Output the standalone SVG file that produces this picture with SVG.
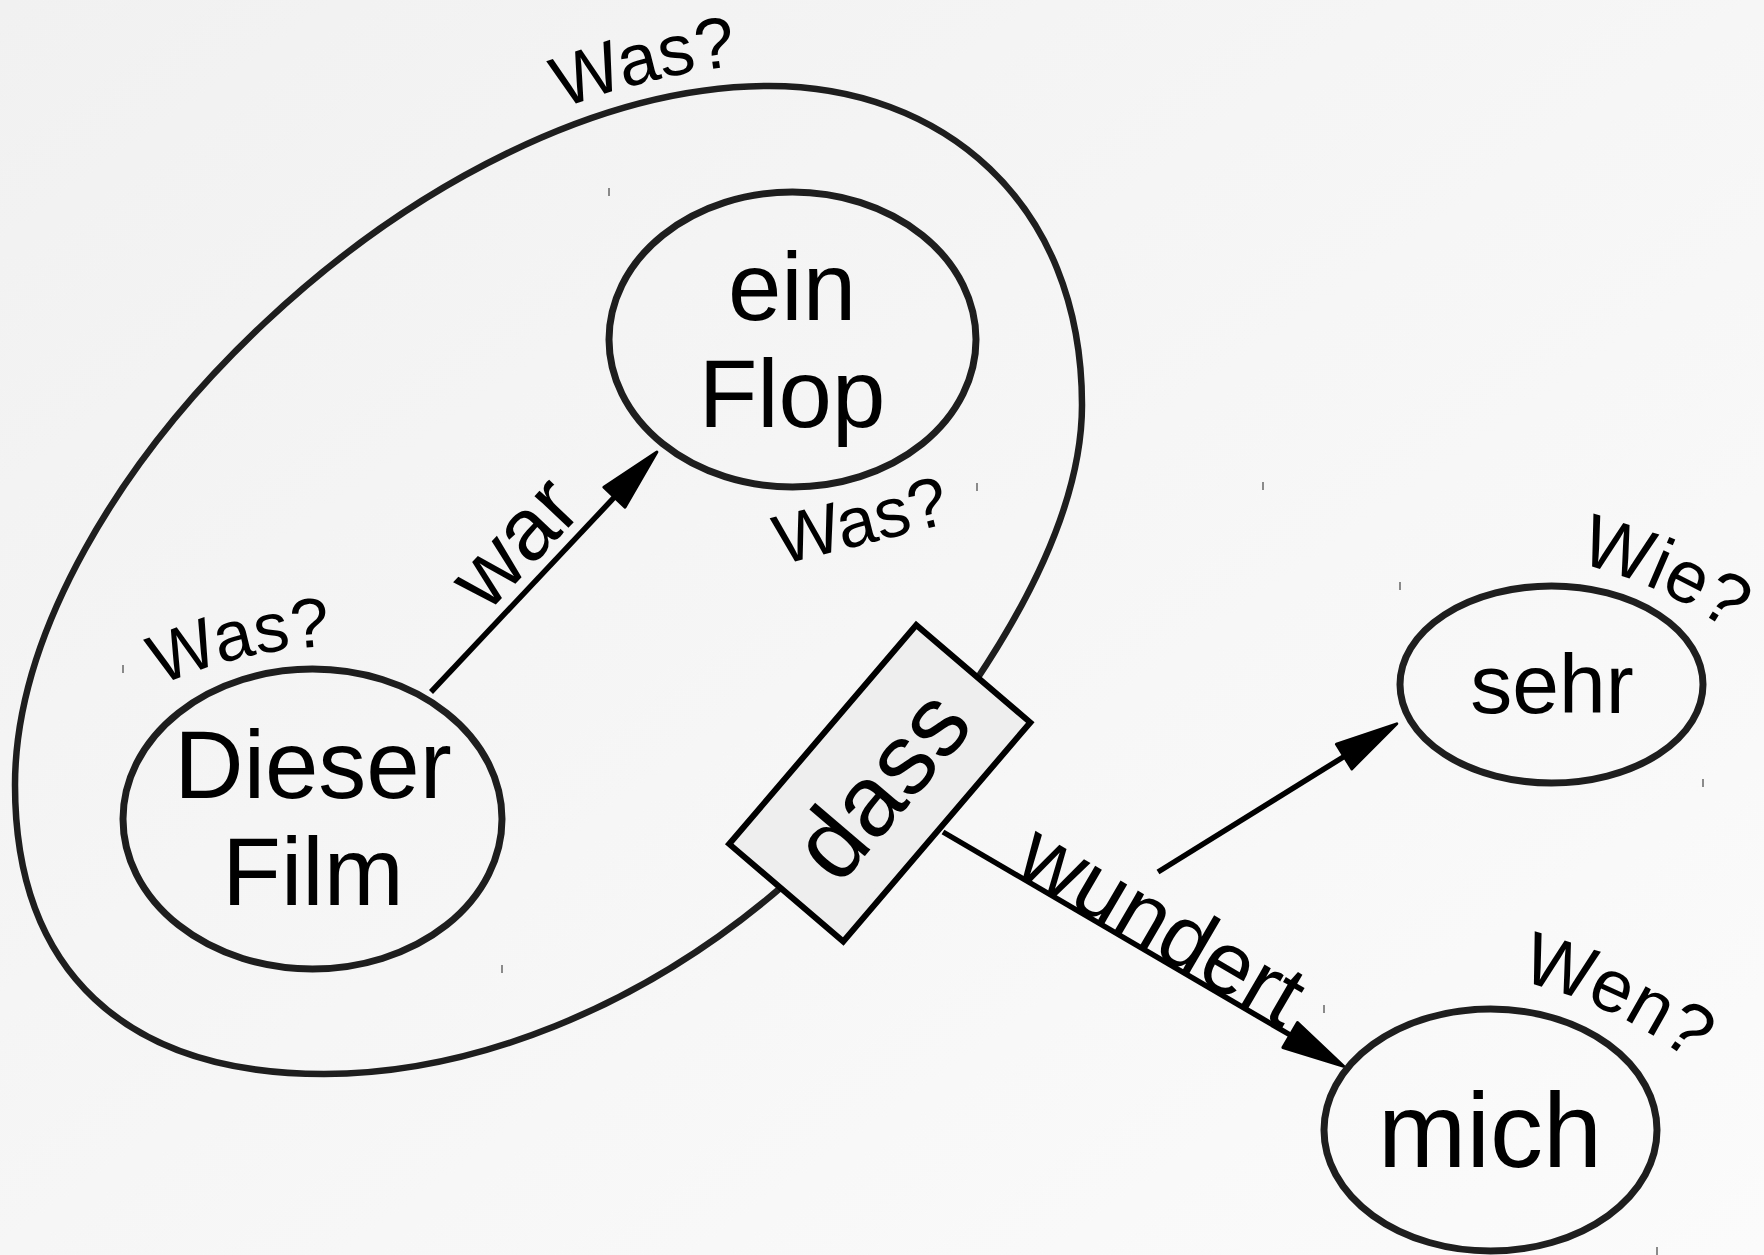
<svg xmlns="http://www.w3.org/2000/svg" width="1764" height="1255" viewBox="0 0 1764 1255">
<defs>
<linearGradient id="bg" x1="0" y1="0" x2="1" y2="1">
<stop offset="0" stop-color="#f1f1f1"/>
<stop offset="1" stop-color="#fbfbfb"/>
</linearGradient>
<marker id="arr" markerUnits="userSpaceOnUse" viewBox="-2 -20 70 40" markerWidth="70" markerHeight="40" refX="0" refY="0" orient="auto" overflow="visible">
<path d="M0,-14.5 L62,0 L0,14.5 Z" fill="#000" stroke="#000" stroke-width="3" stroke-linejoin="round"/>
</marker>
<path id="pWasTop" d="M562,109 A700,700 0 0,1 878,64"/>
<path id="pWasLeft" d="M160,686 A450,450 0 0,1 462.4,661.2"/>
<path id="pWie" d="M1577,563 A450,450 0 0,1 1791,682.6"/>
<path id="pWen" d="M1519,981 A450,450 0 0,1 1762.9,1130.3"/>
</defs>
<style>
.node{fill:none;stroke:#1e1e1e;stroke-width:7}
.edge{fill:none;stroke:#000;stroke-width:5.5}
.loop{fill:none;stroke:#1e1e1e;stroke-width:6.5}
.t{font-family:"Liberation Sans",Arial,sans-serif;fill:#000}
.lbl{font-family:"Liberation Sans",Arial,sans-serif;fill:#000}
.tick{stroke:#666;stroke-width:1.5}
</style>
<rect width="1764" height="1255" fill="url(#bg)"/>
<g id="ticks">
<line class="tick" x1="609" y1="188" x2="609" y2="196"/>
<line class="tick" x1="977" y1="483" x2="977" y2="491"/>
<line class="tick" x1="123" y1="665" x2="123" y2="673"/>
<line class="tick" x1="502" y1="965" x2="502" y2="973"/>
<line class="tick" x1="1400" y1="582" x2="1400" y2="590"/>
<line class="tick" x1="1703" y1="779" x2="1703" y2="787"/>
<line class="tick" x1="1324" y1="1005" x2="1324" y2="1013"/>
<line class="tick" x1="1657" y1="1247" x2="1657" y2="1255"/>
<line class="tick" x1="1263" y1="482" x2="1263" y2="490"/>
</g>
<g id="connectors">
<path id="loop" class="loop" d="M785,884 C640,1010 470,1074 324,1074 C124,1074 15,970 15,785 C15,485 429,86 769,86 C940,86 1082,200 1082,405 C1082,500 1030,600 975,682"/>
<line id="e-war" class="edge" x1="431" y1="692" x2="614.4" y2="497.2" marker-end="url(#arr)"/>
<line id="e-sehr" class="edge" x1="1158" y1="872" x2="1344.1" y2="756.5" marker-end="url(#arr)"/>
<line id="e-wundert" class="edge" x1="943" y1="832" x2="1290.2" y2="1035" marker-end="url(#arr)"/>
<text class="lbl" font-size="88" transform="translate(487,614) rotate(-46.7)">war</text>
<text class="lbl" font-size="88" transform="translate(1012,871) rotate(30.3)">wundert</text>
<text class="lbl" font-size="72"><textPath href="#pWasTop">Was?</textPath></text>
<text class="lbl" font-size="70"><textPath href="#pWasLeft">Was?</textPath></text>
<text class="lbl" font-size="70" transform="translate(781,565) rotate(-14)">Was?</text>
<text class="lbl" font-size="74"><textPath href="#pWie">Wie?</textPath></text>
<text class="lbl" font-size="74"><textPath href="#pWen">Wen?</textPath></text>
</g>
<g id="n-dieser-film">
<ellipse class="node" cx="312.5" cy="819" rx="189.5" ry="150"/>
<text class="t" font-size="96" text-anchor="middle" x="313" y="798">Dieser</text>
<text class="t" font-size="96" text-anchor="middle" x="313" y="905">Film</text>
</g>
<g id="n-ein-flop">
<ellipse class="node" cx="792.5" cy="339.5" rx="183.5" ry="147.5"/>
<text class="t" font-size="96" text-anchor="middle" x="792" y="320">ein</text>
<text class="t" font-size="96" text-anchor="middle" x="792" y="427">Flop</text>
</g>
<g id="n-sehr">
<ellipse class="node" cx="1551.5" cy="684.5" rx="151.5" ry="98.5"/>
<text class="t" font-size="84" text-anchor="middle" x="1552" y="713">sehr</text>
</g>
<g id="n-mich">
<ellipse class="node" cx="1490.5" cy="1130" rx="166.5" ry="121"/>
<text class="t" font-size="106" text-anchor="middle" x="1490" y="1167">mich</text>
</g>
<g id="n-dass" transform="translate(879.75,783.25) rotate(-49.5)">
<rect x="-144" y="-75" width="288" height="150" fill="#eeeeee" stroke="#000" stroke-width="6"/>
<text class="t" font-size="100" text-anchor="middle" x="0" y="36">dass</text>
</g>
</svg>
